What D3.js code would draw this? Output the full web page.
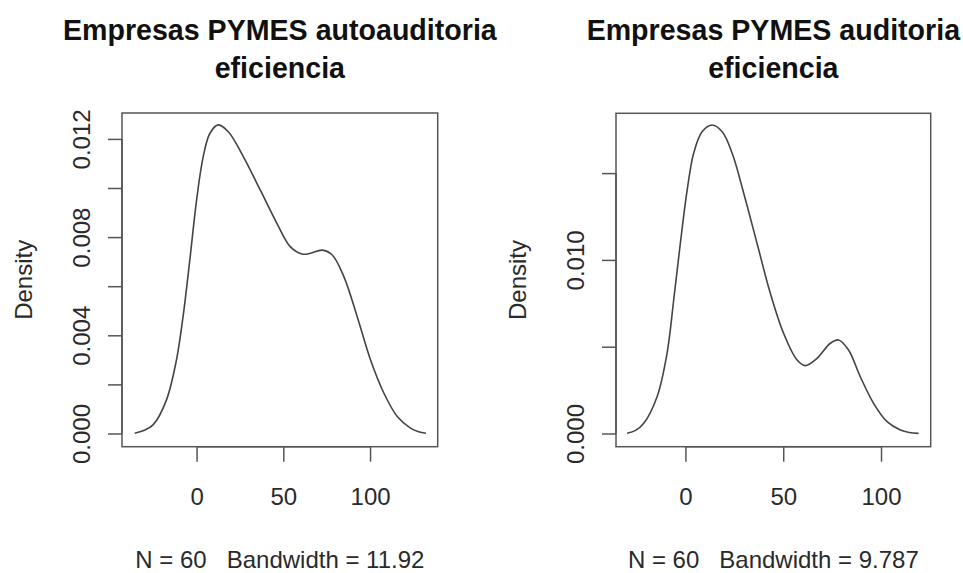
<!DOCTYPE html>
<html>
<head>
<meta charset="utf-8">
<script src="https://cdn.jsdelivr.net/npm/d3@7"></script>
<style>
  html, body { margin: 0; padding: 0; background: #fff; }
  svg { display: block; }
  text { font-family: "Liberation Sans", Arial, Helvetica, sans-serif; white-space: pre; }
</style>
</head>
<body>
<svg id="chart" width="963" height="573"></svg>
<script>
// ---------- DATA ----------
const leftTitle = ["Empresas PYMES autoauditoria", "eficiencia"];
const leftXLabel = "N = 60   Bandwidth = 11.92";
const leftX = [-35.7, -30.5, -25.1, -17.4, -11.6, -7.8, -3.9, 0, 3.8, 7.7, 12.5, 18.3, 27.0, 36.7, 46.3, 54.0, 60.8, 65.6, 72.4, 78.2, 84.9, 92.6, 100.3, 108.0, 115.8, 123.5, 128, 132.2];
const leftY = [0.00001, 0.00012, 0.00035, 0.00136, 0.0030, 0.00476, 0.00707, 0.00951, 0.01127, 0.01223, 0.01257, 0.01229, 0.01127, 0.00992, 0.00856, 0.00761, 0.00731, 0.00734, 0.00747, 0.00727, 0.00639, 0.00476, 0.00299, 0.00164, 0.00068, 0.00021, 0.00007, 0.00001];
const leftYTicks = [0, 0.002, 0.004, 0.006, 0.008, 0.010, 0.012];
const leftYTickLabels = ["0.000", "", "0.004", "", "0.008", "", "0.012"];
const leftXDomain = [-43, 139];
const leftYDomain = [-0.000538, 0.013055];

const rightTitle = ["Empresas PYMES auditoria", "eficiencia"];
const rightXLabel = "N = 60   Bandwidth = 9.787";
const rightX = [-29.8, -25.5, -21.3, -14.5, -9.4, -6.0, -2.6, 0.9, 4.2, 8.5, 13.6, 18.8, 23.9, 29.8, 36.6, 43.4, 50.2, 57.1, 61.3, 67.3, 74.1, 78.3, 83.4, 89.4, 96.2, 103.1, 109.9, 114.5, 119.2];
const rightY = [0.00001, 0.00018, 0.00059, 0.00212, 0.00462, 0.00769, 0.01096, 0.01403, 0.01614, 0.01738, 0.01777, 0.01738, 0.01614, 0.01384, 0.01096, 0.00808, 0.00577, 0.00423, 0.00391, 0.00433, 0.00520, 0.00539, 0.00481, 0.00327, 0.00174, 0.00068, 0.0002, 0.00006, 0.00001];
const rightYTicks = [0, 0.005, 0.010, 0.015];
const rightYTickLabels = ["0.000", "", "0.010", ""];
const rightXDomain = [-35.5, 125.4];
const rightYDomain = [-0.00076, 0.018445];

const xTicks = [0, 50, 100];
const xTickLabels = ["0", "50", "100"];
const yAxisLabel = "Density";

// ---------- LAYOUT ----------
const panels = [
  { title: leftTitle, xlab: leftXLabel, xs: leftX, ys: leftY, yTicks: leftYTicks, yLabels: leftYTickLabels,
    xDom: leftXDomain, yDom: leftYDomain, box: { l: 122, r: 437.7, t: 113, b: 446.7 } },
  { title: rightTitle, xlab: rightXLabel, xs: rightX, ys: rightY, yTicks: rightYTicks, yLabels: rightYTickLabels,
    xDom: rightXDomain, yDom: rightYDomain, box: { l: 616, r: 930.7, t: 113.3, b: 446.7 } }
];

const svg = d3.select("#chart");
const FS = 24;
const ink = "#2a2a2a";
const FF = '"Liberation Sans", Arial, Helvetica, sans-serif';

panels.forEach(p => {
  const b = p.box;
  const x = d3.scaleLinear().domain(p.xDom).range([b.l, b.r]);
  const y = d3.scaleLinear().domain(p.yDom).range([b.b, b.t]);
  const g = svg.append("g");
  const cx = (b.l + b.r) / 2;
  const cy = (b.t + b.b) / 2;

  // box
  g.append("rect").attr("x", b.l).attr("y", b.t)
    .attr("width", b.r - b.l).attr("height", b.b - b.t)
    .attr("fill", "none").attr("stroke", "#555").attr("stroke-width", 1.5);

  // density curve
  const pts = p.xs.map((v, i) => [v, p.ys[i]]);
  g.append("path").datum(pts)
    .attr("d", d3.line().x(d => x(d[0])).y(d => y(d[1])).curve(d3.curveCatmullRom.alpha(0.5)))
    .attr("fill", "none").attr("stroke", "#444").attr("stroke-width", 1.6);

  // x axis
  const xa = g.append("g").attr("transform", `translate(0,${b.b})`)
    .call(d3.axisBottom(x).tickValues(xTicks).tickSize(15).tickPadding(24)
      .tickFormat((d, i) => xTickLabels[i]));
  xa.select(".domain").attr("stroke", "#555").attr("stroke-width", 1.5)
    .attr("d", `M${x(xTicks[0])},0H${x(xTicks[xTicks.length - 1])}`);
  xa.selectAll(".tick line").attr("stroke", "#555").attr("stroke-width", 1.5);
  xa.selectAll(".tick text").attr("font-size", FS).attr("fill", ink)
    .attr("font-family", FF)
    .attr("dy", null).attr("y", 58);

  // y axis
  const ya = g.append("g").attr("transform", `translate(${b.l},0)`)
    .call(d3.axisLeft(y).tickValues(p.yTicks).tickSize(14).tickFormat((d, i) => p.yLabels[i]));
  ya.select(".domain").attr("stroke", "#555").attr("stroke-width", 1.5)
    .attr("d", `M0,${y(p.yTicks[0])}V${y(p.yTicks[p.yTicks.length - 1])}`);
  ya.selectAll(".tick line").attr("stroke", "#555").attr("stroke-width", 1.5);
  ya.selectAll(".tick text").attr("font-size", FS).attr("fill", ink)
    .attr("font-family", FF)
    .attr("x", null).attr("dy", null)
    .attr("text-anchor", "middle")
    .attr("transform", "translate(-32,0) rotate(-90)");

  // y label
  g.append("text").attr("transform", `translate(${b.l - 90},${cy}) rotate(-90)`)
    .attr("text-anchor", "middle").attr("font-size", FS).attr("fill", ink).text(yAxisLabel);

  // x label
  g.append("text").attr("x", cx).attr("y", 568).attr("text-anchor", "middle")
    .attr("xml:space", "preserve")
    .attr("font-size", FS).attr("fill", ink).text(p.xlab);

  // title
  p.title.forEach((t, i) => {
    g.append("text").attr("x", cx).attr("y", 40 + i * 38).attr("text-anchor", "middle")
      .attr("font-size", 28.6).attr("font-weight", "bold").attr("fill", "#111").text(t);
  });
});
</script>
</body>
</html>
